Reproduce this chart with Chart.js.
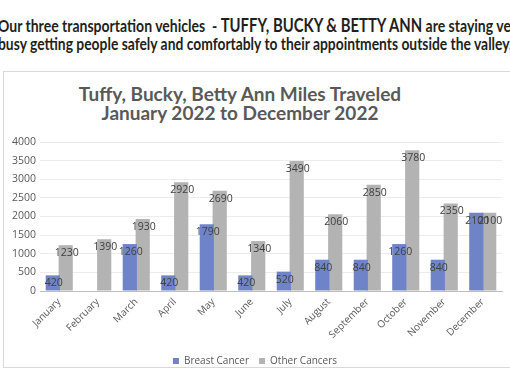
<!DOCTYPE html>
<html>
<head>
<meta charset="utf-8">
<script src="https://cdn.jsdelivr.net/npm/chart.js@4.4.0/dist/chart.umd.min.js"></script>
<style>
  html, body { margin: 0; padding: 0; background: #fff; width: 510px; height: 382px; overflow: hidden; position: relative; }
  .hdr { position: absolute; left: -2px; white-space: nowrap; font-family: Lato, "Open Sans", sans-serif; font-weight: 700; font-size: 17px; color: #231f20; transform-origin: 0 0; }
  .hdr .caps { font-size: 18px; }
  #frame { position: absolute; left: 3px; top: 71px; width: 512px; height: 297px; border: 1px solid #d9d9d9; box-sizing: border-box; }
  #ctitle { position: absolute; left: 0; width: 480px; top: 84px; text-align: center; font-family: Lato, "Open Sans", sans-serif; font-weight: 700; font-size: 19px; line-height: 19px; color: #595959; }
  #wrap { position: absolute; left: 4px; top: 72px; width: 506px; height: 304px; }
</style>
</head>
<body>
<div class="hdr" style="top:14px; transform: scaleX(0.825);">Our three transportation vehicles &nbsp;- <span class="caps">TUFFY, BUCKY &amp; BETTY ANN</span> are staying very</div>
<div class="hdr" style="top:33px; transform: scaleX(0.815);">busy getting people safely and comfortably to their appointments outside the valley.</div>
<div id="frame"></div>
<div id="ctitle">Tuffy, Bucky, Betty Ann Miles Traveled<br>January 2022 to December 2022</div>
<div id="wrap"><canvas id="c"></canvas></div>
<script>
const months = ["January","February","March","April","May","June","July","August","September","October","November","December"];
const breastCancer = [420, 0, 1260, 420, 1790, 420, 520, 840, 840, 1260, 840, 2100];
const otherCancers = [1230, 1390, 1930, 2920, 2690, 1340, 3490, 2060, 2850, 3780, 2350, 2100];
const yTicks = [0, 500, 1000, 1500, 2000, 2500, 3000, 3500, 4000];

const labelPlugin = {
  id: 'barLabels',
  afterDatasetsDraw(chart) {
    const ctx = chart.ctx;
    ctx.save();
    ctx.font = '10.5px "Open Sans", "DejaVu Sans", sans-serif';
    ctx.fillStyle = '#404040';
    ctx.textAlign = 'center';
    ctx.textBaseline = 'middle';
    chart.data.datasets.forEach((ds, i) => {
      const meta = chart.getDatasetMeta(i);
      meta.data.forEach((bar, j) => {
        const v = ds.data[j];
        if (!v) return;
        ctx.fillText(String(v), bar.x + 1, bar.y + 8);
      });
    });
    ctx.restore();
  }
};

new Chart(document.getElementById('c'), {
  type: 'bar',
  data: {
    labels: months,
    datasets: [
      { label: 'Breast Cancer', data: breastCancer, backgroundColor: '#6f84c8', barPercentage: 1.1, categoryPercentage: 0.67 },
      { label: 'Other Cancers', data: otherCancers, backgroundColor: '#b3b3b3', barPercentage: 1.1, categoryPercentage: 0.67 }
    ]
  },
  options: {
    responsive: true,
    maintainAspectRatio: false,
    animation: false,
    layout: { padding: { top: 70, left: 4, right: 8, bottom: 0 } },
    plugins: {
      title: { display: false },
      tooltip: { enabled: false },
      legend: {
        position: 'bottom',
        labels: {
          boxWidth: 6, boxHeight: 6, padding: 10,
          color: '#595959',
          font: { family: '"Open Sans", "DejaVu Sans", sans-serif', size: 10 }
        }
      }
    },
    scales: {
      x: {
        afterFit(scale) { scale.height = 55; },
        grid: { display: false, drawTicks: false },
        border: { color: '#bfbfbf' },
        ticks: {
          color: '#595959', maxRotation: 45, minRotation: 45, padding: 5,
          font: { family: '"Open Sans", "DejaVu Sans", sans-serif', size: 10 }
        }
      },
      y: {
        min: 0, max: 4000,
        afterBuildTicks(axis) { axis.ticks = yTicks.map(v => ({ value: v })); },
        grid: { color: '#ececec', drawTicks: false },
        border: { display: false },
        ticks: {
          color: '#595959', padding: 4,
          callback: (v) => String(v),
          font: { family: '"Open Sans", "DejaVu Sans", sans-serif', size: 10.5 }
        }
      }
    }
  },
  plugins: [labelPlugin]
});
</script>
</body>
</html>
